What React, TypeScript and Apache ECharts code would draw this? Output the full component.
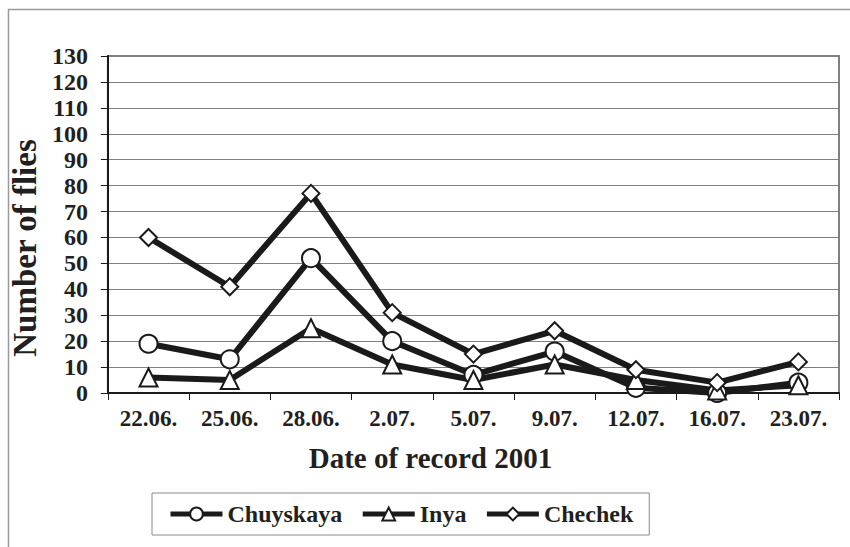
import React, { useEffect, useRef } from "react";
import * as echarts from "echarts";

const categories = ["22.06.", "25.06.", "28.06.", "2.07.", "5.07.", "9.07.", "12.07.", "16.07.", "23.07."];
const chuyskaya = [19, 13, 52, 20, 7, 16, 2, 0, 4];
const inya = [6, 5, 25, 11, 5, 11, 5, 1, 3];
const chechek = [60, 41, 77, 31, 15, 24, 9, 4, 12];

const FONT = "'Liberation Serif', 'Times New Roman', serif";
const INK = "#231f20";

export default function App() {
  const ref = useRef<HTMLDivElement>(null);
  useEffect(() => {
    if (!ref.current) return;
    const chart = echarts.init(ref.current, undefined, { renderer: "svg" });
    const mk = (name: string, data: number[], symbol: string, size: number) => ({
      name,
      type: "line",
      data,
      symbol,
      symbolSize: size,
      showSymbol: true,
      lineStyle: { color: "#1a1a1a", width: 6 },
      itemStyle: { color: "#ffffff", borderColor: "#1a1a1a", borderWidth: 2 },
      emphasis: { disabled: true },
      z: 3,
    });
    chart.setOption({
      animation: false,
      backgroundColor: "#ffffff",
      textStyle: { fontFamily: FONT },
      graphic: [
        {
          type: "rect",
          shape: { x: 8.5, y: 9.5, width: 900, height: 600 },
          style: { fill: "none", stroke: "#9a9a9a", lineWidth: 1.5 },
          silent: true,
        },
      ],
      grid: {
        left: 99,
        right: 11,
        top: 56,
        bottom: 154,
        show: true,
        borderColor: "#808080",
        borderWidth: 2,
        backgroundColor: "transparent",
      },
      legend: {
        left: 152,
        top: 493,
        padding: [9, 16, 9, 16],
        itemGap: 18,
        itemWidth: 52,
        itemHeight: 16,
        borderColor: "#8a8a8a",
        borderWidth: 1,
        lineStyle: { width: 5, color: "#1a1a1a" },
        itemStyle: { color: "#ffffff", borderColor: "#1a1a1a", borderWidth: 2 },
        textStyle: { fontFamily: FONT, fontWeight: "bold", fontSize: 24, color: INK },
        data: ["Chuyskaya", "Inya", "Chechek"],
      },
      xAxis: {
        type: "category",
        data: categories,
        boundaryGap: true,
        name: "Date of record 2001",
        nameLocation: "middle",
        nameGap: 50,
        nameTextStyle: { fontFamily: FONT, fontWeight: "bold", fontSize: 29, color: INK, padding: [0, 86, 0, 0] },
        axisLine: { show: true, lineStyle: { color: "#1a1a1a", width: 2 } },
        axisTick: { show: true, length: 7, alignWithLabel: false, lineStyle: { color: "#1a1a1a", width: 1 } },
        axisLabel: { fontFamily: FONT, fontWeight: "bold", fontSize: 23, color: INK, margin: 14, interval: 0 },
        splitLine: { show: false },
      },
      yAxis: {
        type: "value",
        min: 0,
        max: 130,
        interval: 10,
        name: "Number of flies",
        nameLocation: "middle",
        nameGap: 49,
        nameRotate: 90,
        nameTextStyle: { fontFamily: FONT, fontWeight: "bold", fontSize: 33, color: INK, padding: [0, 47, 0, 0] },
        axisLine: { show: true, lineStyle: { color: "#1a1a1a", width: 2 } },
        axisTick: { show: true, length: 7, lineStyle: { color: "#1a1a1a", width: 1 } },
        axisLabel: { fontFamily: FONT, fontWeight: "bold", fontSize: 24, color: INK, margin: 20 },
        splitLine: { show: true, lineStyle: { color: "#808080", width: 1 } },
      },
      series: [
        mk("Chuyskaya", chuyskaya, "circle", 18),
        mk("Inya", inya, "triangle", 18),
        mk("Chechek", chechek, "diamond", 17),
      ],
    });
    return () => chart.dispose();
  }, []);
  return (
    <div
      ref={ref}
      style={{ position: "fixed", left: 0, top: 0, width: 850, height: 547 }}
    />
  );
}
